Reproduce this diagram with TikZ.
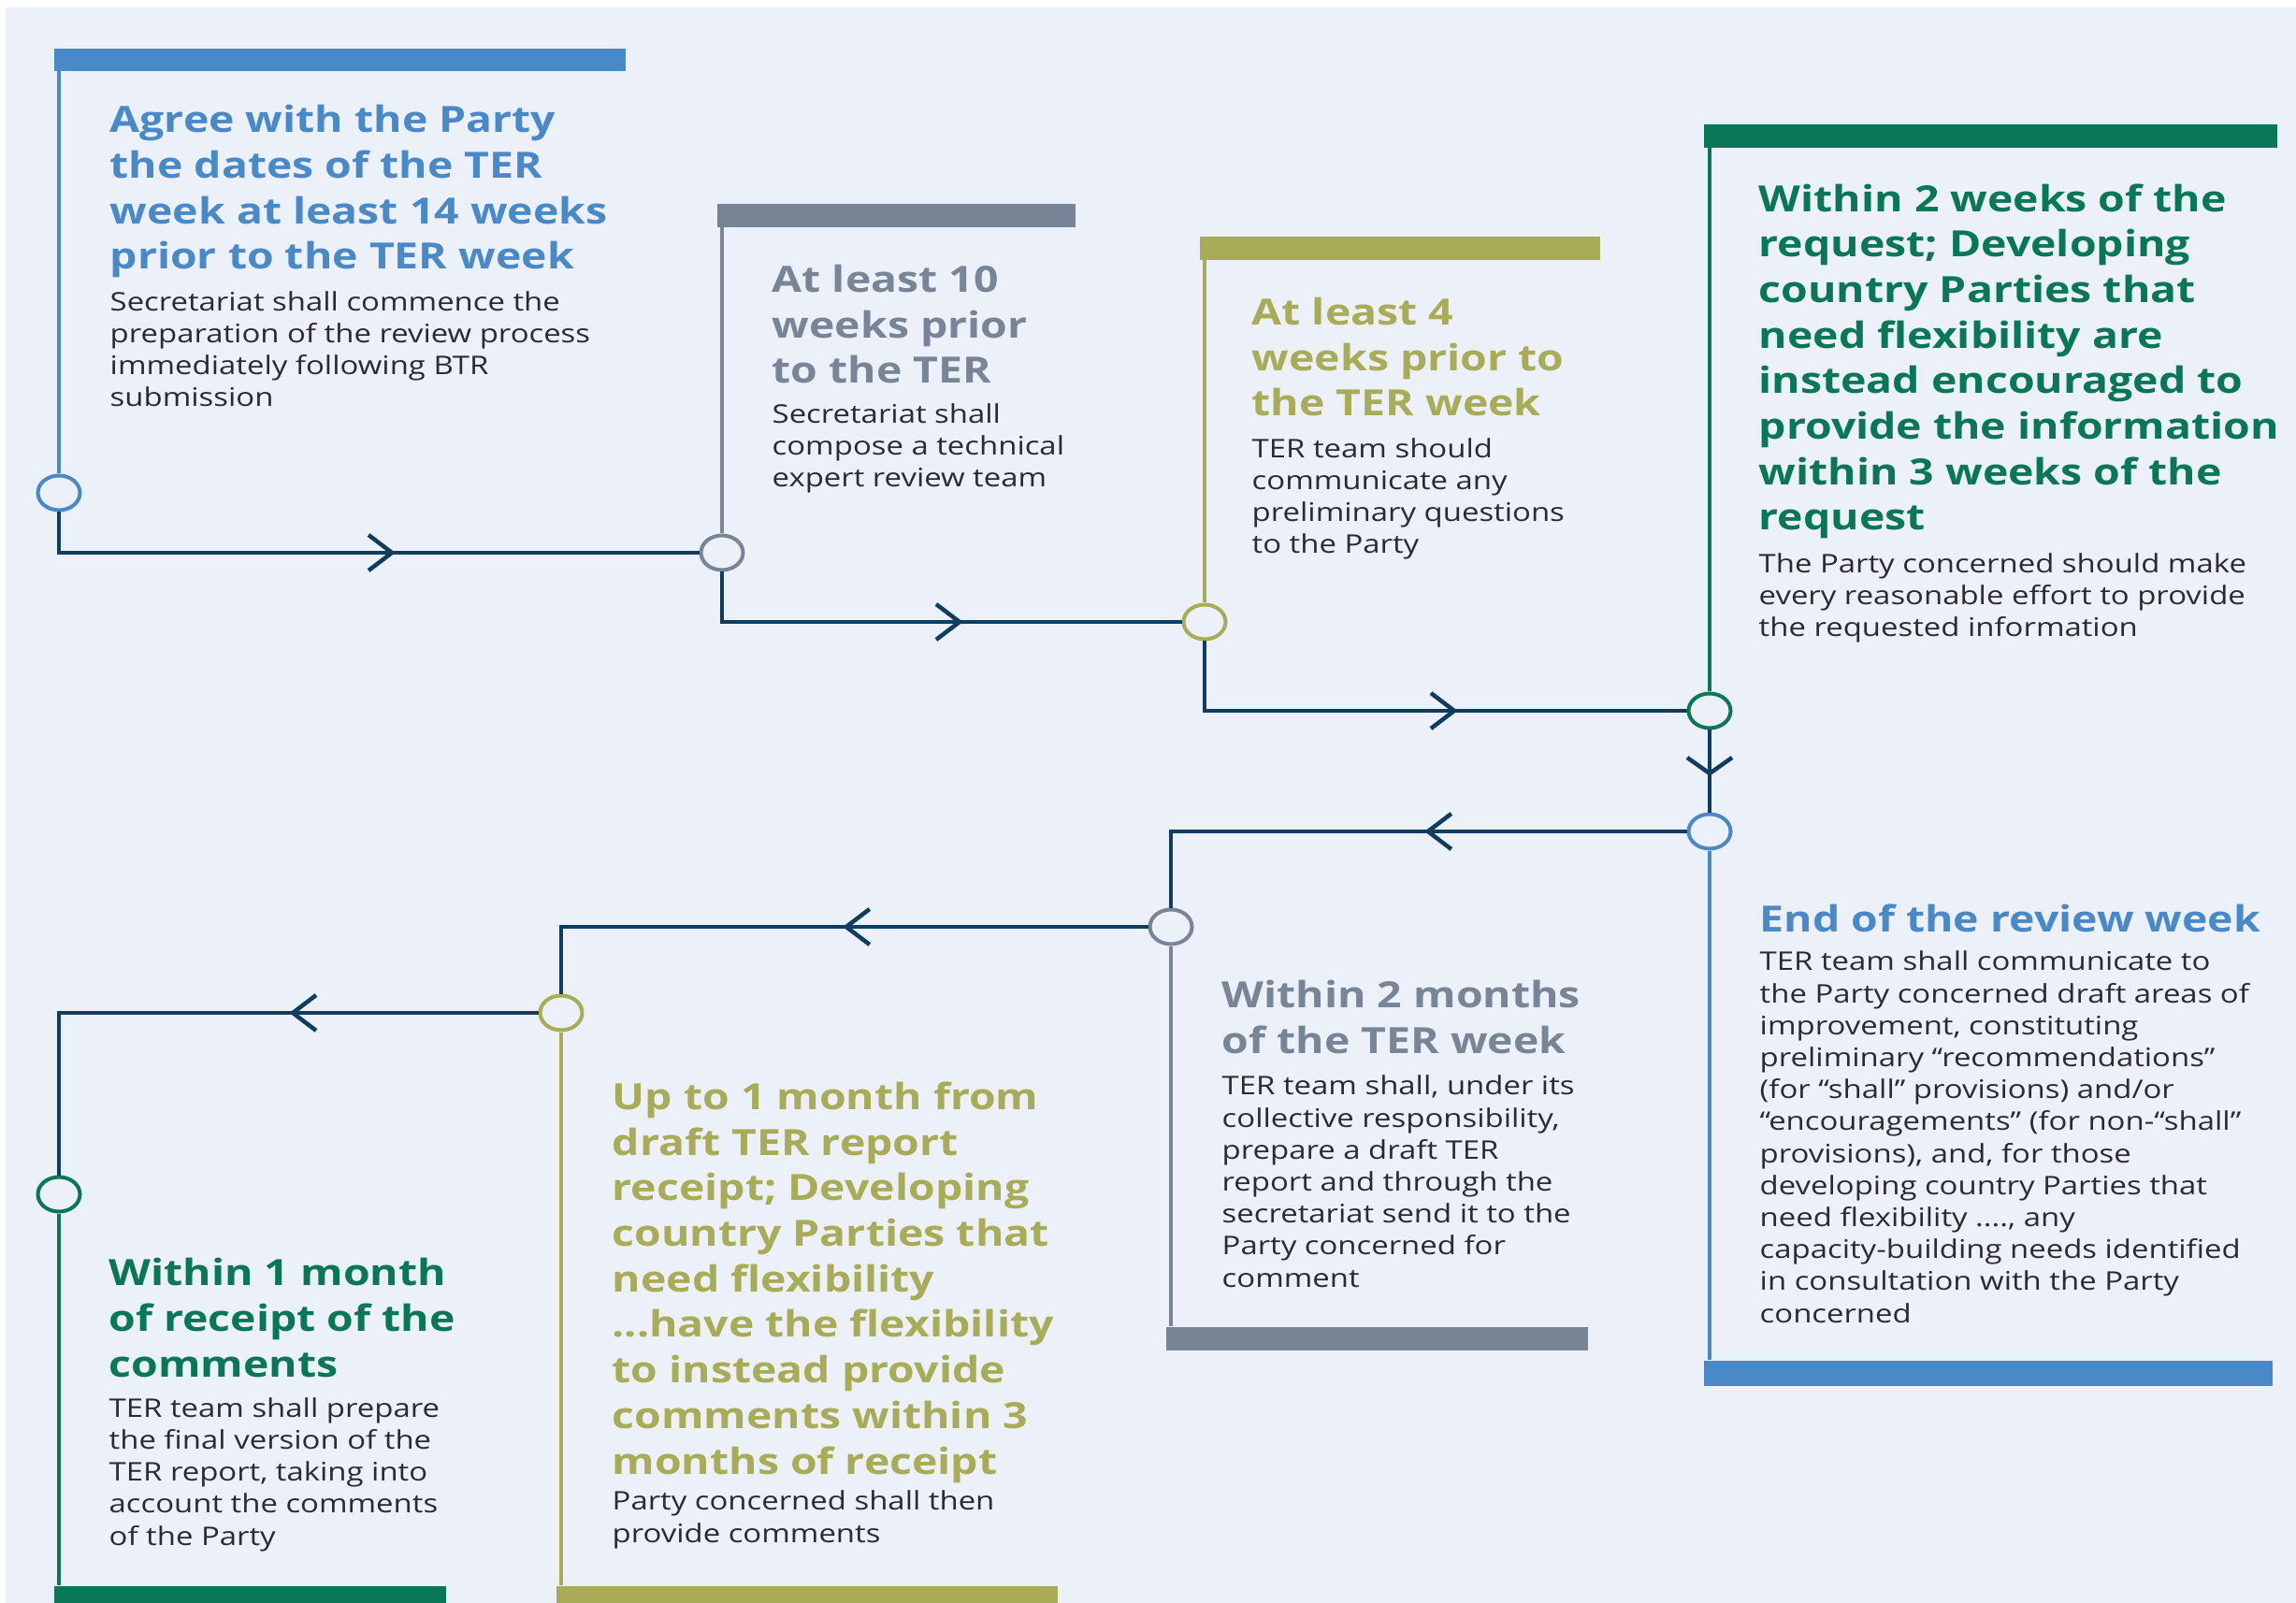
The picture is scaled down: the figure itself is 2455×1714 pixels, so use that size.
\documentclass[tikz,border=0pt]{standalone}
\usepackage{fontspec}
\setmainfont{Open Sans}[FakeStretch=1.2]
\usetikzlibrary{arrows.meta,shapes.geometric,decorations.markings}

\definecolor{bgpanel}{HTML}{ECF0F8}
\definecolor{terblue}{HTML}{4A89C8}
\definecolor{tergray}{HTML}{778596}
\definecolor{terolive}{HTML}{A9AC56}
\definecolor{tergreen}{HTML}{087756}
\definecolor{ternavy}{HTML}{0E3D5F}
\definecolor{bodytext}{HTML}{2B2A30}

\tikzset{
  stagedot/.style={draw=#1, line width=0.4mm, fill=bgpanel, ellipse, minimum width=4.5mm, minimum height=3.7mm, inner sep=0pt},
  stemline/.style={draw=#1, line width=0.45mm},
  tabbar/.style={fill=#1, inner sep=0pt, anchor=north west},
  % anchored at the baseline of the last line
  heading/.style={text=#1, anchor=base west, inner sep=0pt, align=left, font=\bfseries\fontsize{11}{13.85}\selectfont},
  detailtext/.style={text=bodytext, anchor=base west, inner sep=0pt, align=left, font=\fontsize{7.8}{9.73}\selectfont},
  flowline/.style={draw=ternavy, line width=0.45mm, postaction={decorate},
    decoration={markings, mark=at position #1 with {\arrow{Straight Barb[length=2.5mm,width=3.8mm]}}}},
  downline/.style={draw=ternavy, line width=0.45mm, postaction={decorate},
    decoration={markings, mark=at position #1 with {\arrow{Straight Barb[length=1.7mm,width=4.8mm]}}}}
}

\begin{document}
\begin{tikzpicture}[x=0.1mm,y=-0.1mm]
  \useasboundingbox (0,0) rectangle (2455,1714);
  \fill[bgpanel] (6,8) rectangle (2455,1714);

  % colour bars
  \node[tabbar=terblue, minimum width=61.1mm, minimum height=2.4mm] (bar1) at (57,51) {};
  \node[tabbar=tergray, minimum width=38.3mm, minimum height=2.5mm] (bar2) at (766,217) {};
  \node[tabbar=terolive, minimum width=42.8mm, minimum height=2.5mm] (bar3) at (1282,252) {};
  \node[tabbar=tergreen, minimum width=61.3mm, minimum height=2.5mm] (bar4) at (1821,132) {};
  \node[tabbar=terblue, minimum width=60.8mm, minimum height=2.7mm] (bar5) at (1821,1454) {};
  \node[tabbar=tergray, minimum width=45.1mm, minimum height=2.5mm] (bar6) at (1246,1418) {};
  \node[tabbar=terolive, minimum width=53.6mm, minimum height=3mm] (bar7) at (594,1695) {};
  \node[tabbar=tergreen, minimum width=41.9mm, minimum height=3mm] (bar8) at (57,1695) {};

  % stages
  \node[stagedot=terblue] (c1) at (63,527) {};
  \node[stagedot=tergray] (c2) at (772,591) {};
  \node[stagedot=terolive] (c3) at (1288,665) {};
  \node[stagedot=tergreen] (c4) at (1828,760) {};
  \node[stagedot=terblue] (c5) at (1828,889) {};
  \node[stagedot=tergray] (c6) at (1252,991) {};
  \node[stagedot=terolive] (c7) at (600,1083) {};
  \node[stagedot=tergreen] (c8) at (63,1277) {};

  \draw[stemline=terblue] (c1) -- (c1 |- bar1.south);
  \draw[stemline=tergray] (c2) -- (c2 |- bar2.south);
  \draw[stemline=terolive] (c3) -- (c3 |- bar3.south);
  \draw[stemline=tergreen] (c4) -- (c4 |- bar4.south);
  \draw[stemline=terblue] (c5) -- (c5 |- bar5.north);
  \draw[stemline=tergray] (c6) -- (c6 |- bar6.north);
  \draw[stemline=terolive] (c7) -- (c7 |- bar7.north);
  \draw[stemline=tergreen] (c8) -- (c8 |- bar8.north);

  % timeline
  \draw[flowline=0.554] (c1) |- (c2);
  \draw[flowline=0.571] (c2) |- (c3);
  \draw[flowline=0.585] (c3) |- (c4);
  \draw[downline=0.56] (c4) -- (c5);
  \draw[flowline=0.443] (c5) -| (c6);
  \draw[flowline=0.467] (c6) -| (c7);
  \draw[flowline=0.388] (c7) -| (c8);

  % texts
  \node[heading=terblue] (h1) at (117,288) {Agree with the Party\\the dates of the TER\\week at least 14 weeks\\prior to the TER week};
  \node[detailtext] (d1) at (117,435) {Secretariat shall commence the\\preparation of the review process\\immediately following BTR\\submission};

  \node[heading=tergray] (h2) at (825,410) {At least 10\\weeks prior\\to the TER};
  \node[detailtext] (d2) at (825,521) {Secretariat shall\\compose a technical\\expert review team};

  \node[heading=terolive] (h3) at (1338,445) {At least 4\\weeks prior to\\the TER week};
  \node[detailtext] (d3) at (1338,592) {TER team should\\communicate any\\preliminary questions\\to the Party};

  \node[heading=tergreen] (h4) at (1880,567) {Within 2 weeks of the\\request; Developing\\country Parties that\\need flexibility are\\instead encouraged to\\provide the information\\within 3 weeks of the\\request};
  \node[detailtext] (d4) at (1880,681) {The Party concerned should make\\every reasonable effort to provide\\the requested information};

  \node[heading=terblue] (h5) at (1881,996) {End of the review week};
  \node[detailtext] (d5) at (1881,1414) {TER team shall communicate to\\the Party concerned draft areas of\\improvement, constituting\\preliminary “recommendations”\\(for “shall” provisions) and/or\\“encouragements” (for non-“shall”\\provisions), and, for those\\developing country Parties that\\need flexibility ...., any\\capacity-building needs identified\\in consultation with the Party\\concerned};

  \node[heading=tergray] (h6) at (1306,1126) {Within 2 months\\of the TER week};
  \node[detailtext] (d6) at (1306,1376) {TER team shall, under its\\collective responsibility,\\prepare a draft TER\\report and through the\\secretariat send it to the\\Party concerned for\\comment};

  \node[heading=terolive] (h7) at (654,1576) {Up to 1 month from\\draft TER report\\receipt; Developing\\country Parties that\\need flexibility\\...have the flexibility\\to instead provide\\comments within 3\\months of receipt};
  \node[detailtext] (d7) at (654,1649) {Party concerned shall then\\provide comments};

  \node[heading=tergreen] (h8) at (116,1472) {Within 1 month\\of receipt of the\\comments};
  \node[detailtext] (d8) at (116,1652) {TER team shall prepare\\the final version of the\\TER report, taking into\\account the comments\\of the Party};
\end{tikzpicture}
\end{document}
